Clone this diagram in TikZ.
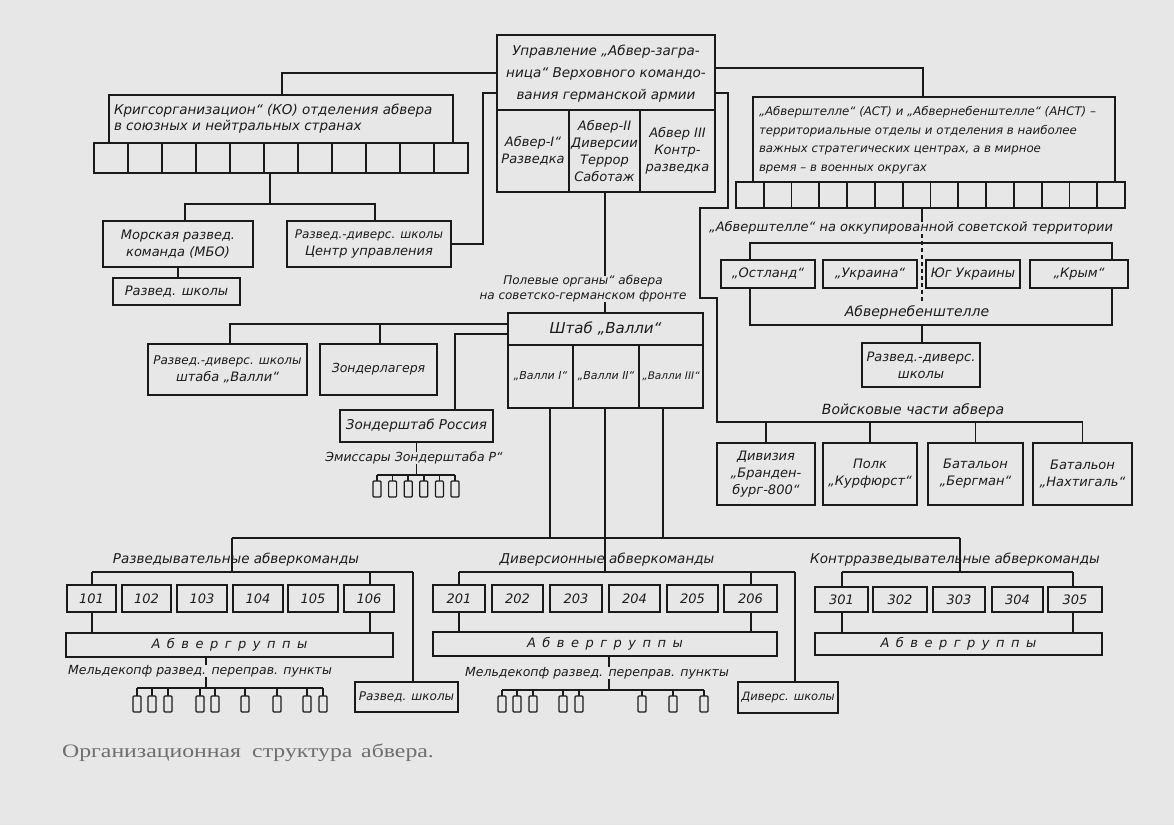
\documentclass[tikz,border=0pt]{standalone}
\usepackage{fontspec}
\setmainfont{DejaVu Sans}
\newfontfamily\capfont{Liberation Serif}
\usetikzlibrary{calc}
\definecolor{bg}{HTML}{E7E7E7}
\definecolor{ink}{HTML}{1A1A1A}
\definecolor{txt}{HTML}{1C1C1C}
\definecolor{captxt}{HTML}{6E6E6E}
\newcommand\tf[2]{\fontsize{#1}{#2}\selectfont\itshape}
\newcommand\bx[6]{\node[box, minimum width={(#4)-(#2)}, minimum height={(#5)-(#3)}] (#1) at ({((#2)+(#4))/2},{((#3)+(#5))/2}) {#6};}
\newcommand\gsp{\hspace{6.5pt}}
\newcommand\abgr{{\tf{13}{15}А\gsp б\gsp в\gsp е\gsp р\gsp г\gsp р\gsp у\gsp п\gsp п\gsp ы}}
\tikzset{
 box/.style={draw=ink, fill=bg, line width=1.8pt, inner sep=0pt, outer sep=0pt, text=txt, align=center, font=\tf{13}{17}},
 lbl/.style={inner sep=0pt, outer sep=0pt, text=txt, align=center, font=\tf{13.5}{16}},
 con/.style={draw=ink, line width=1.5pt},
 tinybox/.style={draw=ink, fill=bg, line width=1.2pt, rounded corners=1pt, inner sep=0pt, outer sep=0pt, minimum width=8pt, minimum height=16pt},
}
\begin{document}
\begin{tikzpicture}[x=1pt,y=-1pt]
\fill[bg] (0,0) rectangle (1174,825);
\useasboundingbox (0,0) rectangle (1174,825);

% ---------- headquarters
\bx{upr}{497}{35}{715}{110}{}
\node[lbl, font=\tf{13.5}{22}] (uprt) at (606,74) {Управление „Абвер-загра-\\ница“ Верховного командо-\\вания германской армии};
\bx{ab1}{497}{110}{569}{192}{Абвер-I“\\Разведка}
\bx{ab2}{569}{110}{640}{192}{Абвер-II\\Диверсии\\Террор\\Саботаж}
\bx{ab3}{640}{110}{715}{192}{Абвер III\\Контр-\\разведка}

% ---------- KO
\bx{ko}{109}{95}{453}{143}{}
\node[lbl, anchor=west, align=left, font=\tf{13.5}{16}] (kot) at (114,119) {Кригсорганизацион“ (КО) отделения абвера\\в союзных и нейтральных странах};
\foreach \i in {0,...,10}{\bx{ko\i}{94+34*\i}{143}{128+34*\i}{173}{}}

% ---------- AST
\bx{ast}{753}{97}{1115}{182}{}
\node[lbl, anchor=west, align=left, font=\tf{11.8}{18.5}] (astt) at (759,140) {„Абверштелле“ (АСТ) и „Абвернебенштелле“ (АНСТ) –\\территориальные отделы и отделения в наиболее\\важных стратегических центрах, а в мирное\\время – в военных округах};
\foreach \i in {0,...,13}{\bx{as\i}{736+27.786*\i}{182}{763.786+27.786*\i}{208}{}}

% ---------- under KO
\bx{mor}{103}{221}{253}{267}{Морская развед.\\команда (МБО)}
\bx{rdc}{287}{221}{451}{267}{\tf{12}{17}Развед.-диверс. школы\\Центр управления}
\bx{rs0}{113}{278}{240}{305}{Развед. школы}
\coordinate (kd) at (270,204);
\draw[con] (ko5.south -| kd) -- (kd);
\draw[con] ($(mor.north)+(7,0)$) |- ($(rdc.north)+(6,-17)$) -- ($(rdc.north)+(6,0)$);
\draw[con] (mor.south) -- (rs0.north -| mor.south);

% ---------- HQ connectors
\coordinate (c1) at (282,73);
\draw[con] (ko.north -| c1) |- (upr.west |- c1);
\coordinate (c2) at (923,68);
\draw[con] (upr.east |- c2) -| (ast.north -| c2);
\coordinate (c3) at (483,93);
\draw[con] (upr.west |- c3) -| ($(rdc.east -| c3)$) -- (rdc.east);

% ---------- field organs
\coordinate (c8) at (605,276);
\node[lbl, font=\tf{12}{15}] (pol) at (583,289) {Полевые органы“ абвера\\на советско-германском фронте};
\draw[con] (ab2.south -| c8) -- (c8);
\bx{sht}{508}{313}{703}{345}{\tf{15}{17}Штаб „Валли“}
\draw[con] (pol.south -| c8) -- (sht.north -| c8);
\bx{va1}{508}{345}{573}{408}{\tf{11}{13}„Валли I“}
\bx{va2}{573}{345}{639}{408}{\tf{11}{13}„Валли II“}
\bx{va3}{639}{345}{703}{408}{\tf{10.5}{13}„Валли III“}

\bx{rdv}{148}{344}{307}{395}{\tf{12}{17}Развед.-диверс. школы\\штаба „Валли“}
\bx{zl}{320}{344}{437}{395}{\tf{12.5}{15}Зондерлагеря}
\coordinate (c9) at (230,324);
\coordinate (c10) at (380,324);
\draw[con] (sht.west |- c9) -- (c9) -- (rdv.north -| c9);
\draw[con] (c10) -- (zl.north -| c10);
\node[box, line width=2.6pt, minimum width=153, minimum height=32, font=\tf{13.5}{15}] (zsh) at (416.5,426) {Зондерштаб Россия};
\coordinate (c11) at (455,334);
\draw[con] (sht.west |- c11) -- (c11) -- (zsh.north -| c11);
\node[lbl, font=\tf{12.5}{14}] (emi) at (414,458) {Эмиссары Зондерштаба Р“};
\draw[con] (zsh.south) -- (emi.north -| zsh.south);
\coordinate (c13) at (416.5,475);
\foreach \i in {0,...,5}{\node[tinybox] (e\i) at ({377+15.6*\i},489) {};}
\draw[con] (emi.south -| c13) -- (c13);
\draw[con] (e0.north |- c13) -- (e5.north |- c13);
\foreach \i in {0,...,5}{\draw[con] (e\i.north |- c13) -- (e\i.north);}

% ---------- occupied territory
\node[lbl, font=\tf{13}{15}] (ostt) at (911,228) {„Абверштелле“ на оккупированной советской территории};
\node[draw=ink, line width=1.5pt, minimum width=362, minimum height=82, inner sep=0pt, outer sep=0pt] (frm) at (931,284) {};
\bx{os1}{721}{260}{815}{288}{„Остланд“}
\bx{os2}{823}{260}{917}{288}{„Украина“}
\bx{os3}{926}{260}{1020}{288}{Юг Украины}
\bx{os4}{1030}{260}{1128}{288}{„Крым“}
\node[lbl, font=\tf{14}{16}, outer sep=3pt] (anst) at (917,313) {Абвернебенштелле};
\bx{rds}{862}{343}{980}{387}{Развед.-диверс.\\школы}
\coordinate (mx) at (922,0);
\draw[con] (as6.south -| mx) -- (ostt.north -| mx);
\draw[con, dash pattern=on 4pt off 3pt] (ostt.south -| mx) -- (anst.north -| mx);
\draw[con] (frm.south -| mx) -- (rds.north -| mx);

% ---------- troops
\node[lbl, font=\tf{14}{16}] (vch) at (913,411) {Войсковые части абвера};
\bx{b1}{717}{443}{815}{505}{Дивизия\\„Бранден-\\бург-800“}
\bx{b2}{823}{443}{917}{505}{Полк\\„Курфюрст“}
\bx{b3}{928}{443}{1023}{505}{Батальон\\„Бергман“}
\bx{b4}{1033}{443}{1132}{505}{Батальон\\„Нахтигаль“}
\coordinate (c4) at (728,93);
\coordinate (c5) at (700,208);
\coordinate (c6) at (717,298);
\coordinate (c7) at (717,422);
\draw[con] (upr.east |- c4) -| (c4 |- c5) -- (c5) -- (c5 |- c6) -- (c6) -- (c7) -- (b4.north |- c7) -- (b4.north);
\foreach \b in {b1,b2,b3}{\draw[con] (\b.north |- c7) -- (\b.north);}

% ---------- main bus
\coordinate (bL) at (232,538);
\coordinate (bR) at (960,538);
\coordinate (x1) at (550,0);
\coordinate (x2) at (605,0);
\coordinate (x3) at (663,0);
\draw[con] (bL) -- (bR);
\draw[con] (va1.south -| x1) -- (bL -| x1);
\draw[con] (va3.south -| x3) -- (bL -| x3);

% ---------- recon
\node[lbl] (rzt) at (236,560) {Разведывательные абверкоманды};
\coordinate (r1) at (92,572);
\coordinate (r2) at (413,572);
\coordinate (r3) at (370,572);
\draw[con] (bL) -- (bL |- r1);
\draw[con] (r1) -- (r2);
\foreach \n/\a/\b in {101/67/116,102/122/171,103/177/227,104/233/283,105/288/338,106/344/394}{\bx{k\n}{\a}{585}{\b}{612}{\n}}
\bx{ag1}{66}{633}{393}{657}{\abgr}
\draw[con] (r1) -- (k101.north -| r1);
\draw[con] (r3) -- (k106.north -| r3);
\draw[con] (k101.south -| r1) -- (ag1.north -| r1);
\draw[con] (k106.south -| r3) -- (ag1.north -| r3);
\node[lbl, font=\tf{12.5}{14}] (md1) at (200,671) {Мельдекопф развед. переправ. пункты};
\coordinate (m1) at (206,688);
\draw[con] (ag1.south -| m1) -- (md1.north -| m1);
\draw[con] (md1.south -| m1) -- (m1);
\foreach \x [count=\j] in {137,152,168,200,215,245,277,307,323}{\node[tinybox] (t\j) at (\x,704) {};}
\draw[con] (t1.north |- m1) -- (t9.north |- m1);
\foreach \j in {1,...,9}{\draw[con] (t\j.north |- m1) -- (t\j.north);}
\bx{rs1}{355}{682}{458}{712}{\tf{12}{14}Развед. школы}
\draw[con] (r2) -- (rs1.north -| r2);

% ---------- diversion
\node[lbl] (dvt) at (607,560) {Диверсионные абверкоманды};
\coordinate (d1) at (459,572);
\coordinate (d2) at (795,572);
\coordinate (d3) at (751,572);
\draw[con] (va2.south -| x2) -- (d1 -| x2);
\draw[con] (d1) -- (d2);
\foreach \n/\a/\b in {201/433/485,202/492/543,203/550/602,204/609/660,205/667/718,206/724/777}{\bx{k\n}{\a}{585}{\b}{612}{\n}}
\bx{ag2}{433}{632}{777}{656}{\abgr}
\draw[con] (d1) -- (k201.north -| d1);
\draw[con] (d3) -- (k206.north -| d3);
\draw[con] (k201.south -| d1) -- (ag2.north -| d1);
\draw[con] (k206.south -| d3) -- (ag2.north -| d3);
\node[lbl, font=\tf{12.5}{14}] (md2) at (597,673) {Мельдекопф развед. переправ. пункты};
\coordinate (m2) at (609,690);
\draw[con] (ag2.south -| m2) -- (md2.north -| m2);
\draw[con] (md2.south -| m2) -- (m2);
\foreach \x [count=\j] in {502,517,533,563,579,642,673,704}{\node[tinybox] (u\j) at (\x,704) {};}
\draw[con] (u1.north |- m2) -- (u8.north |- m2);
\foreach \j in {1,...,8}{\draw[con] (u\j.north |- m2) -- (u\j.north);}
\bx{dsh}{738}{682}{838}{713}{\tf{11.5}{14}Диверс. школы}
\draw[con] (d2) -- (dsh.north -| d2);

% ---------- counter-intelligence
\node[lbl] (krt) at (955,560) {Контрразведывательные абверкоманды};
\coordinate (q1) at (842,572);
\coordinate (q2) at (1073,572);
\draw[con] (bR) -- (bR |- q1);
\draw[con] (q1) -- (q2);
\foreach \n/\a/\b in {301/815/868,302/873/927,303/933/985,304/992/1043,305/1048/1102}{\bx{k\n}{\a}{587}{\b}{612}{\n}}
\bx{ag3}{815}{633}{1102}{655}{\abgr}
\draw[con] (q1) -- (k301.north -| q1);
\draw[con] (q2) -- (k305.north -| q2);
\draw[con] (k301.south -| q1) -- (ag3.north -| q1);
\draw[con] (k305.south -| q2) -- (ag3.north -| q2);

% ---------- caption
\node[anchor=west, inner sep=0pt, text=captxt, font=\capfont\fontsize{19}{21}\selectfont] (cap) at (62,753) {\scalebox{1.25}[1]{Организационная\hspace{9pt}структура\hspace{7pt}абвера.}};
\end{tikzpicture}
\end{document}
